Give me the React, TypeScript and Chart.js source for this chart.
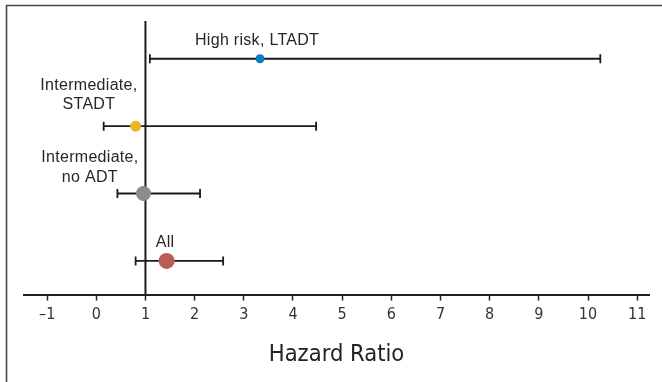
import React, { useEffect, useRef } from "react";
import { Chart, registerables } from "chart.js";

Chart.register(...registerables);

// ---- data ----
const categories = ["High risk, LTADT", "Intermediate, STADT", "Intermediate, no ADT", "All"];
const rowPositions = [4, 3, 2, 1];
const hazardRatios = [3.33, 0.8, 0.96, 1.43];
const ciLower = [1.09, 0.15, 0.43, 0.8];
const ciUpper = [10.25, 4.47, 2.11, 2.58];
const pointColors = ["#0a7dc6", "#e9b924", "#8a8b8e", "#b95d57"];
const pointRadii = [4.5, 5.5, 7.5, 8];
const xTickValues = [-1, 0, 1, 2, 3, 4, 5, 6, 7, 8, 9, 10, 11];
const referenceValue = 1;
const X_MIN = -1.47;
const X_MAX = 11.24;
const Y_MIN = 0.5;
const Y_MAX = 4.56;

// label lines and placement (anchor in data units, offsets in px above row)
const labelLines = [["High risk, LTADT"], ["Intermediate,", "STADT"], ["Intermediate,", "no ADT"], ["All"]];
const labelAnchorX = [3.27, -0.15, -0.13, 1.4];
const labelOffsets = [[18.5], [41, 22], [36, 16], [18.5]];

const labelPlugin = {
  id: "forestLabels",
  beforeDraw(chart: any) {
    const ctx = chart.ctx;
    ctx.save();
    ctx.strokeStyle = "#444";
    ctx.lineWidth = 1.6;
    ctx.beginPath();
    ctx.moveTo(6.5, 382);
    ctx.lineTo(6.5, 5.5);
    ctx.lineTo(662, 5.5);
    ctx.stroke();
    ctx.restore();
  },
  afterDatasetsDraw(chart: any) {
    const ctx = chart.ctx;
    const xs = chart.scales.x;
    const ys = chart.scales.y;
    ctx.save();
    ctx.fillStyle = "#262626";
    ctx.font = "16px 'Liberation Sans', Arial, sans-serif";
    ctx.textAlign = "center";
    ctx.textBaseline = "middle";
    try { (ctx as any).letterSpacing = "0.3px"; } catch (e) {}
    labelLines.forEach((lines, i) => {
      const px = xs.getPixelForValue(labelAnchorX[i]);
      const py = ys.getPixelForValue(rowPositions[i]);
      lines.forEach((line, j) => {
        ctx.fillText(line, px, py - labelOffsets[i][j]);
      });
    });
    ctx.restore();
  },
};

export default function App() {
  const ref = useRef<HTMLCanvasElement>(null);
  useEffect(() => {
    document.body.style.margin = "0";
    const ciSets = categories.map((c, i) => ({
      label: c + " CI",
      data: [
        { x: ciLower[i], y: rowPositions[i] },
        { x: ciUpper[i], y: rowPositions[i] },
      ],
      showLine: true,
      borderColor: "#1a1a1a",
      borderWidth: 1.8,
      pointStyle: "line",
      pointRotation: 90,
      pointRadius: 4.5,
      pointBorderWidth: 1.8,
      pointBorderColor: "#1a1a1a",
      order: 2,
    }));
    const chart = new Chart(ref.current as HTMLCanvasElement, {
      type: "scatter",
      data: {
        datasets: [
          {
            label: "Hazard ratio",
            data: hazardRatios.map((v, i) => ({ x: v, y: rowPositions[i] })),
            pointRadius: pointRadii,
            pointBackgroundColor: pointColors,
            pointBorderWidth: 0,
            order: 0,
          } as any,
          ...ciSets,
          {
            label: "Reference",
            data: [
              { x: referenceValue, y: Y_MIN },
              { x: referenceValue, y: Y_MAX },
            ],
            showLine: true,
            borderColor: "#1a1a1a",
            borderWidth: 2,
            pointRadius: 0,
            order: 3,
          },
        ],
      },
      options: {
        animation: false,
        responsive: false,
        layout: { padding: { left: 24, right: 13, top: 21, bottom: 13 } },
        plugins: { legend: { display: false }, tooltip: { enabled: false } },
        scales: {
          x: {
            type: "linear",
            min: X_MIN,
            max: X_MAX,
            afterBuildTicks: (axis: any) => {
              axis.ticks = xTickValues.map((v) => ({ value: v }));
            },
            grid: {
              display: true,
              drawOnChartArea: false,
              drawTicks: true,
              tickLength: 6,
              tickWidth: 1.5,
              tickColor: "#222",
            },
            border: { display: true, color: "#222", width: 2 },
            ticks: {
              color: "#333",
              padding: 5,
              font: { family: "'Liberation Sans Narrow', 'DejaVu Sans Condensed', sans-serif", size: 16 },
              callback: (v: any) => String(v).replace("-", "\u2013"),
            },
            title: {
              display: true,
              text: "Hazard Ratio",
              color: "#222",
              font: { family: "'Liberation Sans Narrow', 'DejaVu Sans Condensed', sans-serif", size: 23.5 },
              padding: { top: 11, bottom: 0 },
            },
          },
          y: { type: "linear", display: false, min: Y_MIN, max: Y_MAX },
        },
      },
      plugins: [labelPlugin],
    } as any);
    return () => chart.destroy();
  }, []);
  return (
    <div style={{ width: 662, height: 382, background: "#fff" }}>
      <canvas ref={ref} width={662} height={382} />
    </div>
  );
}
